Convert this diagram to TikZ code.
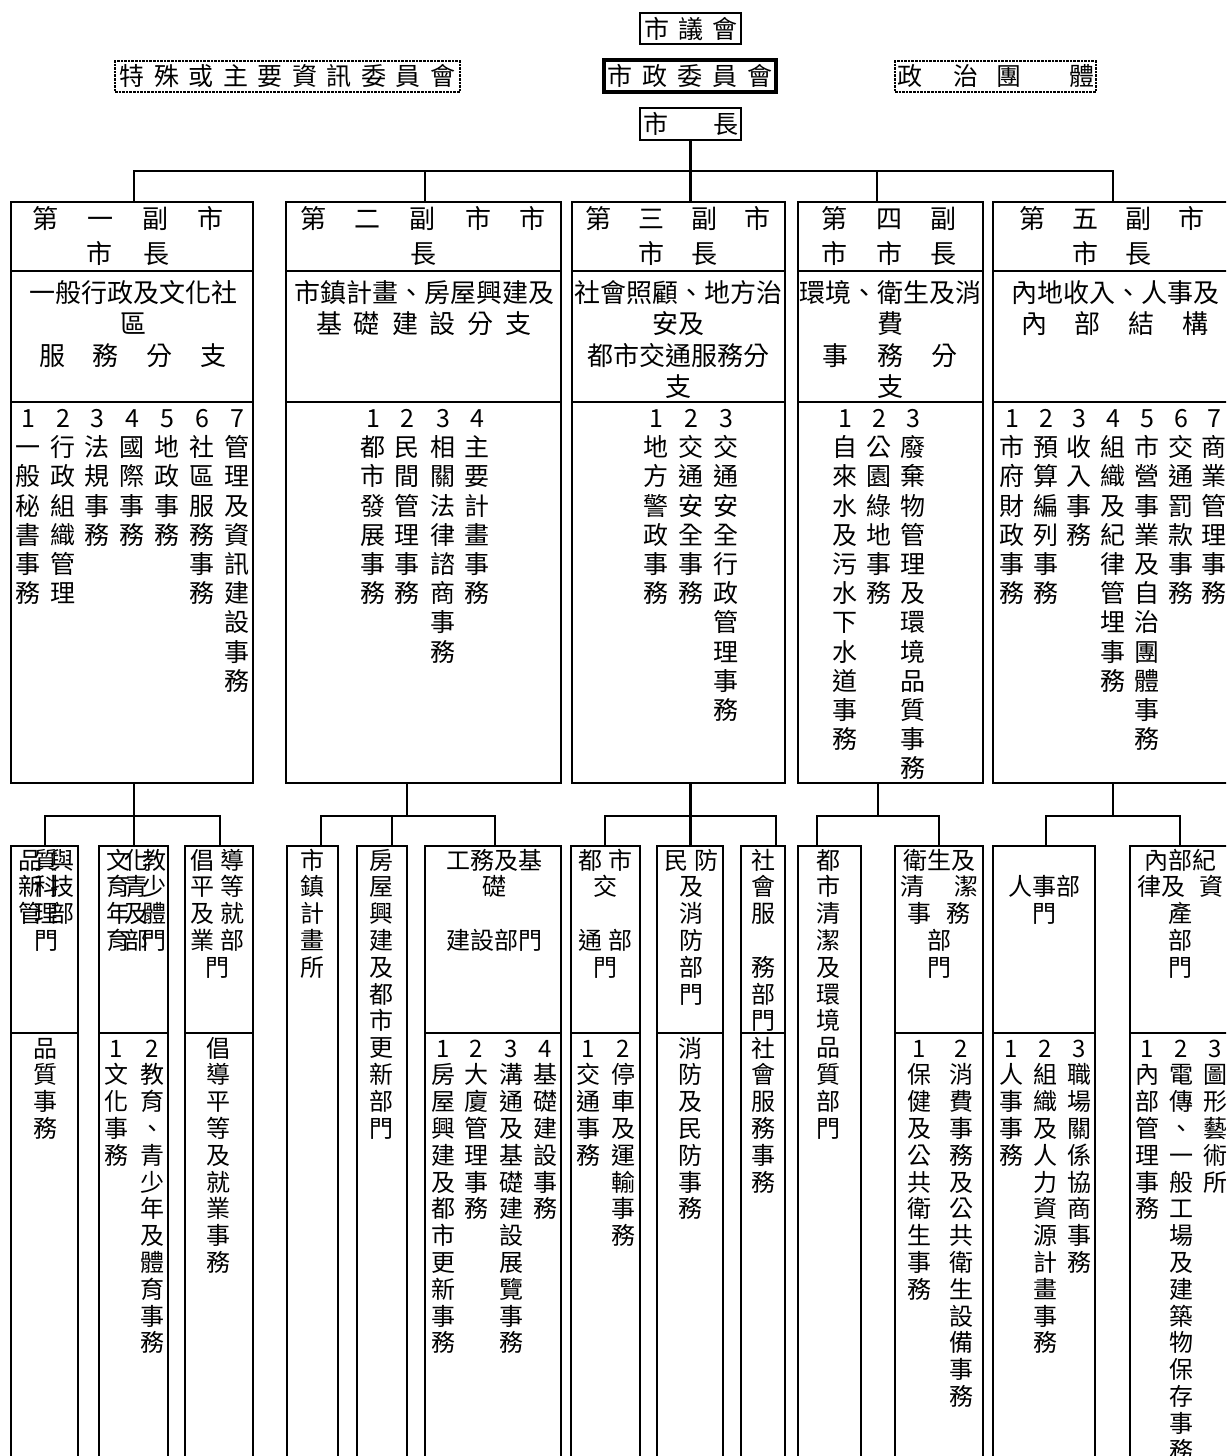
\documentclass[tikz,border=0pt]{standalone}
\usepackage{fontspec}
\setmainfont{Noto Sans CJK TC}

\makeatletter
% characters of #1 stacked one under another
\newcommand\vstack[1]{\vtop{\lineskiplimit=-100pt\expandafter\vstack@#1\@nil}}
\def\vstack@#1{\ifx\@nil#1\else\hbox to 1em{\hss#1\hss}\expandafter\vstack@\fi}
% centred rows, split by \cr
\newcommand\rows[1]{\vtop{\lineskiplimit=-100pt\halign{\hfil##\hfil\cr#1\crcr}}}
% characters with a fixed gap
\newcommand\spaced[2]{\def\spaced@gap{#1}\spaced@#2\@nil\unskip}
\def\spaced@#1{\ifx\@nil#1\else#1\hspace{\spaced@gap}\expandafter\spaced@\fi}
\makeatother

\tikzset{
  linkline/.style={line width=2.8pt},
  vpbox/.style={draw, line width=2.8pt, anchor=north west, inner sep=0pt, outer sep=0pt},
  deptbox/.style={vpbox, minimum height=640},
  topbox/.style={draw, line width=2.6pt, inner sep=0pt, outer sep=0pt, font=\fontsize{25}{30}\selectfont},
  dotbox/.style={topbox, densely dotted, line width=1.4pt},
  headtxt/.style={anchor=base, inner sep=0pt, font=\fontsize{26}{35}\selectfont},
  subtxt/.style={anchor=base, inner sep=0pt, font=\fontsize{26}{31.5}\selectfont},
  listtxt/.style={anchor=base, inner sep=0pt, font=\fontsize{25}{29.2}\selectfont},
  depttxt/.style={anchor=base, inner sep=0pt, font=\fontsize{24}{26.8}\selectfont},
}

\begin{document}
\begin{tikzpicture}[x=1pt, y=-1pt]
\useasboundingbox (0,0) rectangle (1226,1456);
\clip (0,0) rectangle (1226,1456);
\fill[white] (0,0) rectangle (1226,1456);

% top of the chart
\node[topbox, minimum width=101, minimum height=31] (council) at (690.5,28.5) {\spaced{9pt}{市議會}};
\node[topbox, line width=3.4pt, minimum width=172, minimum height=32] (commission) at (690,76) {\spaced{10pt}{市政委員會}};
\node[topbox, minimum width=101, minimum height=32] (mayor) at (690.5,124) {市\hspace{45pt}長};
\node[dotbox, minimum width=345, minimum height=31] (infocom) at (287.5,76.5) {\spaced{9.5pt}{特殊或主要資訊委員會}};
\node[dotbox, minimum width=201, minimum height=31] (parties) at (995.5,76.5) {政\hspace{31pt}治\hspace{18pt}團\hspace{48pt}體};

% vice-mayor branches
\node[vpbox, minimum width=242, minimum height=581] (vm1) at (11,202) {};
\node[vpbox, minimum width=275, minimum height=581] (vm2) at (286,202) {};
\node[vpbox, minimum width=213, minimum height=581] (vm3) at (572,202) {};
\node[vpbox, minimum width=185, minimum height=581] (vm4) at (798,202) {};
\node[vpbox, minimum width=247, minimum height=581] (vm5) at (993,202) {};

\coordinate (r1) at (0,271);
\coordinate (r2) at (0,402);
\coordinate (r3) at (0,1033);
\foreach \b in {vm1,vm2,vm3,vm4,vm5} {
  \draw[linkline] (\b.west |- r1) -- (\b.east |- r1);
  \draw[linkline] (\b.west |- r2) -- (\b.east |- r2);
}

\node[headtxt] (h1) at (128,228) {\rows{\spaced{29pt}{第一副市}\cr\spaced{32pt}{市長}}};
\node[headtxt] (h2) at (423,228) {\rows{\spaced{29pt}{第二副市市}\cr 長}};
\node[headtxt] (h3) at (678,228) {\rows{\spaced{27pt}{第三副市}\cr\spaced{28pt}{市長}}};
\node[headtxt] (h4) at (889,228) {\rows{\spaced{29pt}{第四副}\cr\spaced{29pt}{市市長}}};
\node[headtxt] (h5) at (1112,228) {\rows{\spaced{27pt}{第五副市}\cr\spaced{27pt}{市長}}};

\node[subtxt] (s1) at (133,302) {\rows{一般行政及文化社\cr 區\cr\spaced{28pt}{服務分支}}};
\node[subtxt] (s2) at (424,302) {\rows{市鎮計畫、房屋興建及\cr\spaced{12pt}{基礎建設分支}}};
\node[subtxt] (s3) at (678,302) {\rows{社會照顧、地方治\cr 安及\cr 都市交通服務分\cr 支}};
\node[subtxt] (s4) at (890,302) {\rows{環境、衛生及消\cr 費\cr\spaced{29pt}{事務分}\cr 支}};
\node[subtxt] (s5) at (1115,302) {\rows{內地收入、人事及\cr\spaced{28pt}{內部結構}}};

\node[listtxt] (a1) at (28,427.5) {\vstack{1一般秘書事務}};
\node[listtxt] (a2) at (63,427.5) {\vstack{2行政組織管理}};
\node[listtxt] (a3) at (97,427.5) {\vstack{3法規事務}};
\node[listtxt] (a4) at (132,427.5) {\vstack{4國際事務}};
\node[listtxt] (a5) at (167,427.5) {\vstack{5地政事務}};
\node[listtxt] (a6) at (202,427.5) {\vstack{6社區服務事務}};
\node[listtxt] (a7) at (237,427.5) {\vstack{7管理及資訊建設事務}};
\node[listtxt] (b1) at (373,427.5) {\vstack{1都市發展事務}};
\node[listtxt] (b2) at (407,427.5) {\vstack{2民間管理事務}};
\node[listtxt] (b3) at (443,427.5) {\vstack{3相關法律諮商事務}};
\node[listtxt] (b4) at (477,427.5) {\vstack{4主要計畫事務}};
\node[listtxt] (c1) at (656,427.5) {\vstack{1地方警政事務}};
\node[listtxt] (c2) at (691,427.5) {\vstack{2交通安全事務}};
\node[listtxt] (c3) at (726,427.5) {\vstack{3交通安全行政管理事務}};
\node[listtxt] (d1) at (845,427.5) {\vstack{1自來水及污水下水道事務}};
\node[listtxt] (d2) at (879,427.5) {\vstack{2公園綠地事務}};
\node[listtxt] (d3) at (913,427.5) {\vstack{3廢棄物管理及環境品質事務}};
\node[listtxt] (e1) at (1012,427.5) {\vstack{1市府財政事務}};
\node[listtxt] (e2) at (1046,427.5) {\vstack{2預算編列事務}};
\node[listtxt] (e3) at (1079,427.5) {\vstack{3收入事務}};
\node[listtxt] (e4) at (1113,427.5) {\vstack{4組織及紀律管埋事務}};
\node[listtxt] (e5) at (1147,427.5) {\vstack{5市營事業及自治團體事務}};
\node[listtxt] (e6) at (1181,427.5) {\vstack{6交通罰款事務}};
\node[listtxt] (e7) at (1214,427.5) {\vstack{7商業管理事務}};

% departments
\node[deptbox, minimum width=67] (dA) at (11,846) {};
\node[deptbox, minimum width=69] (dB) at (99,846) {};
\node[deptbox, minimum width=68] (dC) at (185,846) {};
\node[deptbox, minimum width=51] (dD) at (287,846) {};
\node[deptbox, minimum width=50] (dE) at (357,846) {};
\node[deptbox, minimum width=136] (dF) at (425,846) {};
\node[deptbox, minimum width=69] (dG) at (571,846) {};
\node[deptbox, minimum width=66] (dH) at (657,846) {};
\node[deptbox, minimum width=44] (dI) at (741,846) {};
\node[deptbox, minimum width=63] (dJ) at (798,846) {};
\node[deptbox, minimum width=88] (dK) at (895,846) {};
\node[deptbox, minimum width=102] (dL) at (993,846) {};
\node[deptbox, minimum width=110] (dM) at (1130,846) {};
\foreach \b in {dA,dB,dC,dF,dG,dH,dI,dK,dL,dM}
  \draw[linkline] (\b.west |- r3) -- (\b.east |- r3);

\node[depttxt] (hA) at (46,869) {\rows{品\kern-8pt 質\kern-8pt 與\cr 新\kern-8pt 科\kern-8pt 技\cr 管\kern-8pt 理\kern-8pt 部\cr 門}};
\node[depttxt] (hB) at (136,869) {\rows{文\kern-6pt 化\kern-6pt 教\cr 育\kern-6pt 青\kern-6pt 少\cr 年\kern-6pt 及\kern-6pt 體\cr 育\kern-6pt 部\kern-6pt 門}};
\node[depttxt] (hC) at (217,869) {\rows{\spaced{6pt}{倡導}\cr\spaced{6pt}{平等}\cr\spaced{6pt}{及就}\cr\spaced{6pt}{業部}\cr 門}};
\node[depttxt] (hD) at (312,869) {\vstack{市鎮計畫所}};
\node[depttxt] (hE) at (381,869) {\vstack{房屋興建及都市更新部門}};
\node[depttxt] (hF) at (494,869) {\rows{工務及基\cr 礎\cr\cr 建設部門}};
\node[depttxt] (hG) at (605,869) {\rows{\spaced{6pt}{都市}\cr 交\cr\cr\spaced{6pt}{通部}\cr 門}};
\node[depttxt] (hH) at (691,869) {\rows{\spaced{6pt}{民防}\cr 及\cr 消\cr 防\cr 部\cr 門}};
\node[depttxt] (hI) at (763,869) {\vstack{社會服~務部門}};
\node[depttxt] (hJ) at (828,869) {\vstack{都市清潔及環境品質部門}};
\node[depttxt] (hK) at (939,869) {\rows{衛生及\cr\spaced{30pt}{清潔}\cr\spaced{16pt}{事務}\cr 部\cr 門}};
\node[depttxt] (hL) at (1044,869) {\rows{\cr 人事部\cr 門}};
\node[depttxt] (hM) at (1180,869) {\rows{內部紀\cr 律及\hspace{14pt}資\cr 產\cr 部\cr 門}};

\node[depttxt] (lA) at (45,1057) {\vstack{品質事務}};
\node[depttxt] (lB1) at (116,1057) {\vstack{1文化事務}};
\node[depttxt] (lB2) at (152,1057) {\vstack{2教育、青少年及體育事務}};
\node[depttxt] (lC) at (218,1057) {\vstack{倡導平等及就業事務}};
\node[depttxt] (lF1) at (443,1057) {\vstack{1房屋興建及都市更新事務}};
\node[depttxt] (lF2) at (476,1057) {\vstack{2大廈管理事務}};
\node[depttxt] (lF3) at (511,1057) {\vstack{3溝通及基礎建設展覽事務}};
\node[depttxt] (lF4) at (545,1057) {\vstack{4基礎建設事務}};
\node[depttxt] (lG1) at (588,1057) {\vstack{1交通事務}};
\node[depttxt] (lG2) at (623,1057) {\vstack{2停車及運輸事務}};
\node[depttxt] (lH) at (690,1057) {\vstack{消防及民防事務}};
\node[depttxt] (lI) at (763,1057) {\vstack{社會服務事務}};
\node[depttxt] (lK1) at (919,1057) {\vstack{1保健及公共衛生事務}};
\node[depttxt] (lK2) at (961,1057) {\vstack{2消費事務及公共衛生設備事務}};
\node[depttxt] (lL1) at (1011,1057) {\vstack{1人事事務}};
\node[depttxt] (lL2) at (1045,1057) {\vstack{2組織及人力資源計畫事務}};
\node[depttxt] (lL3) at (1079,1057) {\vstack{3職場關係協商事務}};
\node[depttxt] (lM1) at (1147,1057) {\vstack{1內部管理事務}};
\node[depttxt] (lM2) at (1181,1057) {\vstack{2電傳、一般工場及建築物保存事務}};
\node[depttxt] (lM3) at (1215,1057) {\vstack{3圖形藝術所}};

% mayor to vice-mayors
\coordinate (j1) at (134,171);
\coordinate (j2) at (425,171);
\coordinate (j3) at (690.5,171);
\coordinate (j4) at (877,171);
\coordinate (j5) at (1113,171);
\draw[linkline] (mayor) -- (j3);
\draw[linkline] (j1 |- vm1.north) -- (j1) -- (j5) -- (j5 |- vm5.north);
\draw[linkline] (j2) -- (j2 |- vm2.north);
\draw[linkline] (j3) -- (j3 |- vm3.north);
\draw[linkline] (j4) -- (j4 |- vm4.north);

% vice-mayors to departments
\coordinate (g1l) at (45,816);
\coordinate (g1m) at (134,816);
\coordinate (g1r) at (220,816);
\draw[linkline] (g1l |- dA.north) -- (g1l) -- (g1r) -- (g1r |- dC.north);
\draw[linkline] (g1m |- vm1.south) -- (g1m |- dB.north);

\coordinate (g2l) at (321,816);
\coordinate (g2m) at (392,816);
\coordinate (g2t) at (407,816);
\coordinate (g2r) at (495,816);
\draw[linkline] (g2l |- dD.north) -- (g2l) -- (g2r) -- (g2r |- dF.north);
\draw[linkline] (g2t |- vm2.south) -- (g2t);
\draw[linkline] (g2m) -- (g2m |- dE.north);

\coordinate (g3l) at (605,816);
\coordinate (g3m) at (690.5,816);
\coordinate (g3r) at (776,816);
\draw[linkline] (g3l |- dG.north) -- (g3l) -- (g3r) -- (g3r |- dI.north);
\draw[linkline] (g3m |- vm3.south) -- (g3m |- dH.north);

\coordinate (g4l) at (817,816);
\coordinate (g4t) at (878,816);
\coordinate (g4r) at (939,816);
\draw[linkline] (g4l |- dJ.north) -- (g4l) -- (g4r) -- (g4r |- dK.north);
\draw[linkline] (g4t |- vm4.south) -- (g4t);

\coordinate (g5l) at (1046,816);
\coordinate (g5t) at (1113,816);
\coordinate (g5r) at (1180,816);
\draw[linkline] (g5l |- dL.north) -- (g5l) -- (g5r) -- (g5r |- dM.north);
\draw[linkline] (g5t |- vm5.south) -- (g5t);
\end{tikzpicture}
\end{document}
